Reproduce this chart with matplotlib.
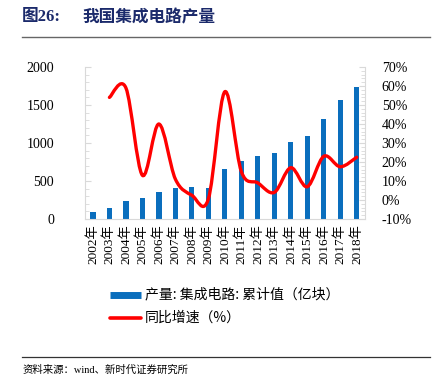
import numpy as np
import matplotlib.pyplot as plt
from matplotlib.path import Path
from matplotlib.patches import PathPatch
from matplotlib.lines import Line2D
from matplotlib.ticker import MultipleLocator, FuncFormatter

# data
years = ['2002', '2003', '2004', '2005', '2006', '2007', '2008', '2009', '2010',
         '2011', '2012', '2013', '2014', '2015', '2016', '2017', '2018']
output = [96, 148, 235, 270, 357, 412, 417, 414, 653, 761, 823, 867, 1016, 1087, 1318, 1565, 1739]
growth_years = years[1:]
growth = [54, 59, 13, 40, 11, 2.5, 0.5, 57, 15, 9, 4, 17, 7, 23, 17.5, 22.5]

serif = ['Liberation Serif', 'Noto Sans CJK SC']
cjk = ['Noto Sans CJK SC', 'DejaVu Sans']

fig = plt.figure(figsize=(4.35, 3.84), dpi=100)
ax = fig.add_axes([0.1947, 0.4297, 0.6443, 0.3958])
ax2 = ax.twinx()

x = np.arange(len(years))
ax.bar(x, output, width=0.32, color='#0A6EBD', zorder=2)
ax.set_xlim(-0.5, len(years) - 0.5)
ax.set_ylim(0, 2000)
ax.yaxis.set_major_locator(MultipleLocator(500))
ax.yaxis.set_minor_locator(MultipleLocator(100))
ax.set_xticks(x)
ax.set_xticklabels([y + '年' for y in years], rotation=90, family=serif, fontsize=9.5)
for lbl in ax.get_yticklabels():
    lbl.set_family(serif)
    lbl.set_fontsize(10)

# smooth line (Catmull-Rom style bezier, like Excel smoothed lines)
gx = np.array([years.index(y) for y in growth_years], dtype=float)
gy = np.array(growth, dtype=float)
pts = np.column_stack([gx, gy])
verts = [pts[0]]
codes = [Path.MOVETO]
for i in range(len(pts) - 1):
    p0 = pts[i - 1] if i > 0 else pts[i]
    p1 = pts[i]
    p2 = pts[i + 1]
    p3 = pts[i + 2] if i + 2 < len(pts) else pts[i + 1]
    c1 = p1 + (p2 - p0) / 6.0
    c2 = p2 - (p3 - p1) / 6.0
    verts += [c1, c2, p2]
    codes += [Path.CURVE4] * 3
ax2.add_patch(PathPatch(Path(verts, codes), facecolor='none', edgecolor='#FF0000',
                        lw=2.4, capstyle='round', joinstyle='round', zorder=3))
ax2.set_ylim(-10, 70)
ax2.yaxis.set_major_locator(MultipleLocator(10))
ax2.yaxis.set_minor_locator(MultipleLocator(2))
ax2.yaxis.set_major_formatter(FuncFormatter(lambda v, p: f'{v:.0f}%'))
for lbl in ax2.get_yticklabels():
    lbl.set_family(serif)
    lbl.set_fontsize(10)

for a in (ax, ax2):
    for s in a.spines.values():
        s.set_visible(False)
ax.spines['left'].set_visible(True)
ax.spines['left'].set_color('#D9D9D9')
ax.spines['bottom'].set_visible(True)
ax.spines['bottom'].set_color('#D9D9D9')
ax2.spines['right'].set_visible(True)
ax2.spines['right'].set_color('#D9D9D9')
ax.tick_params(axis='y', which='both', direction='in', length=3, color='#D9D9D9', pad=22)
ax.tick_params(axis='y', which='major', length=4)
ax.tick_params(axis='x', length=0, pad=4)
ax2.tick_params(axis='y', which='both', direction='in', length=3, color='#D9D9D9', pad=12)
ax2.tick_params(axis='y', which='major', length=4)

# title and rules
fig.text(22 / 435, 1 - 17 / 384, '图26:', family=['Liberation Serif', 'Noto Sans CJK SC'],
         fontweight='bold', fontsize=12, color='#1B2A6B', va='center')
fig.text(82 / 435, 1 - 17 / 384, '我国集成电路产量', family=cjk, fontweight='bold',
         fontsize=12, color='#1B2A6B', va='center')
fig.add_artist(Line2D([22 / 435, 430 / 435], [1 - 37 / 384] * 2, color='#666666', lw=1))
fig.add_artist(Line2D([22 / 435, 430 / 435], [1 - 357 / 384] * 2, color='#333333', lw=0.9))
fig.text(23 / 435, 1 - 370 / 384, '资料来源：wind、新时代证券研究所', family=serif,
         fontsize=7.5, va='center')

# legend
fig.add_artist(Line2D([110 / 435, 141 / 435], [1 - 294.5 / 384] * 2, color='#0A6EBD', lw=5,
                      solid_capstyle='butt'))
fig.text(145 / 435, 1 - 294.5 / 384, '产量: 集成电路: 累计值（亿块）', family=cjk, fontsize=10,
         va='center')
fig.add_artist(Line2D([110 / 435, 141 / 435], [1 - 318 / 384] * 2, color='#FF0000', lw=2.6,
                      solid_capstyle='round'))
fig.text(145 / 435, 1 - 318 / 384, '同比增速（%）', family=cjk, fontsize=10, va='center')

fig.savefig('out.png', dpi=100)
